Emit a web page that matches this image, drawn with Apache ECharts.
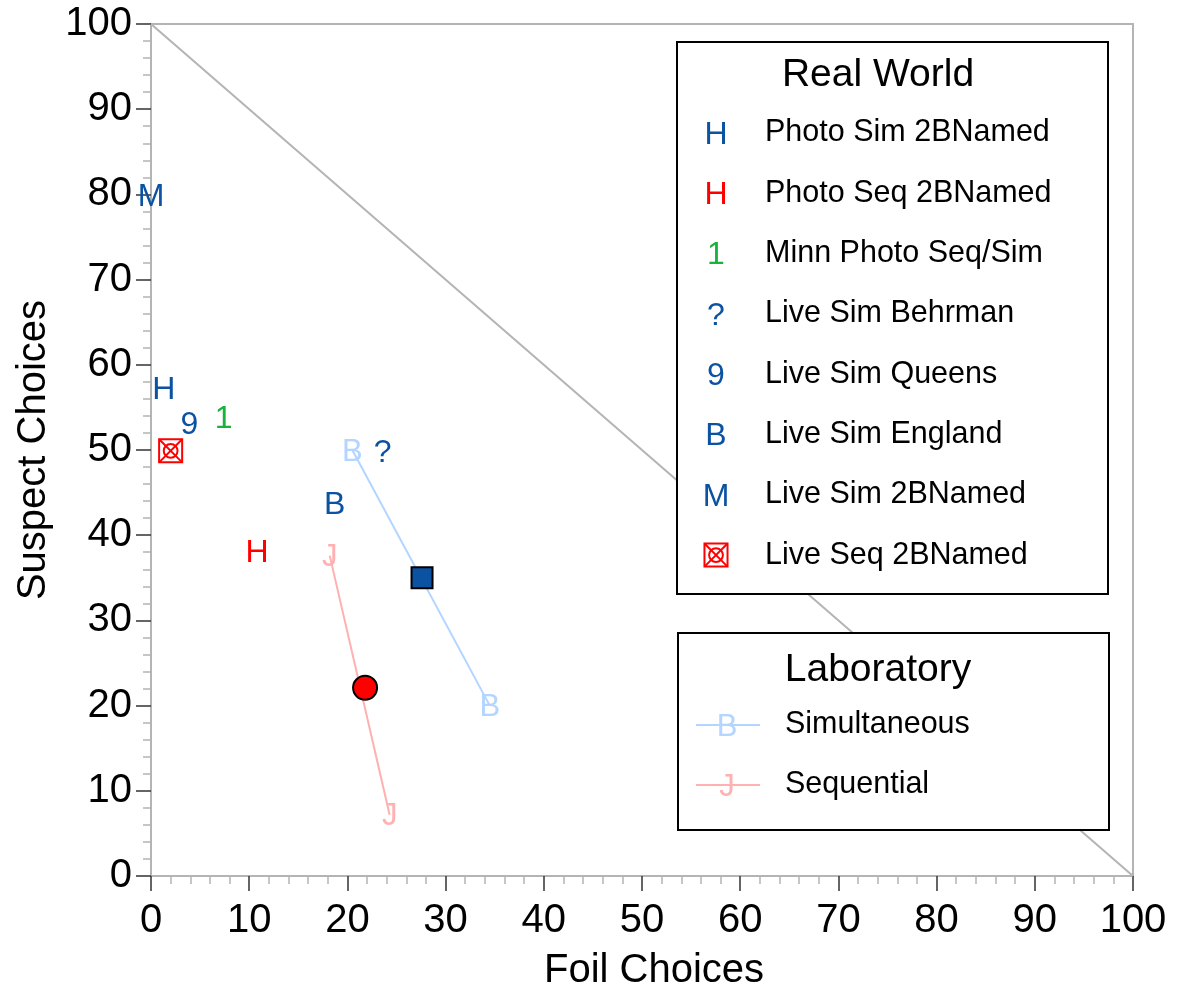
<!DOCTYPE html>
<html>

<head>
    <meta charset="UTF-8">
    <title>Suspect vs Foil Choices</title>
    <script src="https://cdn.jsdelivr.net/npm/echarts@6.0.0/dist/echarts.min.js"></script>
    <style>
        html, body { margin: 0; padding: 0; background: #fff; }
        #chart { width: 1179px; height: 987px; }
    </style>
</head>

<body>
    <div id="chart"></div>
    <script>
        // Real world studies: glyph marker, colour, foil %, suspect %
        const rwNames = ['Photo Sim 2BNamed', 'Photo Seq 2BNamed', 'Minn Photo Seq/Sim', 'Live Sim Behrman',
            'Live Sim Queens', 'Live Sim England', 'Live Sim 2BNamed', 'Live Seq 2BNamed'];
        const rwGlyphs = ['H', 'H', '1', '?', '9', 'B', 'M', 'box'];
        const rwColors = ['#0b52a3', '#ff0000', '#18b33c', '#0b52a3', '#0b52a3', '#0b52a3', '#0b52a3', '#ff0000'];
        const rwFoil = [1.3, 10.8, 7.4, 23.6, 3.9, 18.7, 0.0, 2.0];
        const rwSuspect = [57.3, 38.1, 53.9, 49.9, 53.2, 43.8, 79.9, 49.9];

        // Laboratory lines (two endpoints each) and their means
        const labNames = ['Simultaneous', 'Sequential'];
        const labGlyphs = ['B', 'J'];
        const labColors = ['#b3d5ff', '#ffb0b0'];
        const simFoil = [20.5, 34.5];
        const simSuspect = [50.0, 20.0];
        const seqFoil = [18.2, 24.3];
        const seqSuspect = [37.6, 7.2];
        const meanFoil = [27.6, 21.8];
        const meanSuspect = [35.0, 22.1];

        // chance diagonal
        const diagFoil = [0, 100];
        const diagSuspect = [100, 0];

        const FONT = 'Liberation Sans, Arial, sans-serif';
        const chart = echarts.init(document.getElementById('chart'));

        function boxGlyph(cx, cy, s, color, z) {
            const h = s / 2;
            const parts = [
                { type: 'rect', shape: { x: cx - h, y: cy - h, width: s, height: s }, style: { fill: 'none', stroke: color, lineWidth: 2 } },
                { type: 'circle', shape: { cx: cx, cy: cy, r: h * 0.6 }, style: { fill: 'none', stroke: color, lineWidth: 2 } },
                { type: 'line', shape: { x1: cx - h, y1: cy - h, x2: cx + h, y2: cy + h }, style: { stroke: color, lineWidth: 2 } },
                { type: 'line', shape: { x1: cx + h, y1: cy - h, x2: cx - h, y2: cy + h }, style: { stroke: color, lineWidth: 2 } }
            ];
            if (z != null) parts.forEach(p => { p.z = z; });
            return { type: 'group', children: parts };
        }

        // letter glyph centred on the point (small nudge so caps sit centred)
        function glyphItem(glyph, x, y, color, size, z) {
            if (glyph === 'box') return boxGlyph(x, y, size * 0.72, color, z);
            const t = {
                type: 'text', x: x, y: y + 2,
                style: { text: glyph, fill: color, fontSize: size, fontFamily: FONT, align: 'center', verticalAlign: 'middle' }
            };
            if (z != null) t.z = z;
            return t;
        }

        const rwData = rwFoil.map((f, i) => [f, rwSuspect[i], i]);

        const axisCommon = {
            type: 'value', min: 0, max: 100, interval: 10,
            axisLine: { show: true, lineStyle: { color: '#b4b4b4', width: 2 } },
            axisTick: { show: true, length: 15, lineStyle: { color: '#333', width: 1.5 } },
            minorTick: { show: true, splitNumber: 5, length: 8, lineStyle: { color: '#b4b4b4', width: 1.5 } },
            splitLine: { show: false },
            axisLabel: { color: '#000', fontSize: 40, fontFamily: FONT },
            nameLocation: 'middle',
            nameTextStyle: { color: '#000', fontSize: 40, fontFamily: FONT }
        };

        // legend graphics
        const graphics = [];
        graphics.push({ type: 'rect', shape: { x: 677, y: 42, width: 431, height: 552 }, style: { fill: '#fff', stroke: '#000', lineWidth: 2 }, z: 100 });
        graphics.push({ type: 'text', x: 878, y: 75, style: { text: 'Real World', fontSize: 39, fontFamily: FONT, fill: '#000', align: 'center', verticalAlign: 'middle' }, z: 101 });
        rwNames.forEach((name, i) => {
            const y = 133 + i * 60.3;
            graphics.push(glyphItem(rwGlyphs[i], 716, y, rwColors[i], 32, 101));
            graphics.push({ type: 'text', x: 765, y: y, style: { text: name, fontSize: 30.5, fontFamily: FONT, fill: '#000', align: 'left', verticalAlign: 'middle' }, z: 101 });
        });
        graphics.push({ type: 'rect', shape: { x: 678, y: 633, width: 431, height: 197 }, style: { fill: '#fff', stroke: '#000', lineWidth: 2 }, z: 100 });
        graphics.push({ type: 'text', x: 878, y: 670, style: { text: 'Laboratory', fontSize: 39, fontFamily: FONT, fill: '#000', align: 'center', verticalAlign: 'middle' }, z: 101 });
        labNames.forEach((name, i) => {
            const y = 725 + i * 60;
            graphics.push({ type: 'line', shape: { x1: 696, y1: y, x2: 760, y2: y }, style: { stroke: labColors[i], lineWidth: 2 }, z: 101 });
            graphics.push(glyphItem(labGlyphs[i], 727, y, labColors[i], 31, 101));
            graphics.push({ type: 'text', x: 785, y: y, style: { text: name, fontSize: 30.5, fontFamily: FONT, fill: '#000', align: 'left', verticalAlign: 'middle' }, z: 101 });
        });

        function labGlyphSeries(foil, suspect, idx) {
            return {
                type: 'custom',
                data: foil.map((f, i) => [f, suspect[i]]),
                z: 4,
                renderItem: function (params, api) {
                    const p = api.coord([api.value(0), api.value(1)]);
                    return glyphItem(labGlyphs[idx], p[0], p[1], labColors[idx], 31);
                }
            };
        }

        chart.setOption({
            animation: false,
            backgroundColor: '#fff',
            grid: {
                left: 151, right: 46, top: 24, bottom: 111, outerBoundsMode: 'none',
                show: true, borderColor: '#b4b4b4', borderWidth: 2
            },
            xAxis: Object.assign({}, axisCommon, {
                name: 'Foil Choices', nameGap: 75,
                axisLabel: Object.assign({}, axisCommon.axisLabel, { margin: 25 }),
                nameTextStyle: Object.assign({}, axisCommon.nameTextStyle, { padding: [0, 0, 0, 24] })
            }),
            yAxis: Object.assign({}, axisCommon, {
                name: 'Suspect Choices', nameGap: 95,
                axisLabel: Object.assign({}, axisCommon.axisLabel, { margin: 19 })
            }),
            graphic: graphics,
            series: [
                {
                    type: 'line', data: diagFoil.map((f, i) => [f, diagSuspect[i]]),
                    symbol: 'none', lineStyle: { color: '#b4b4b4', width: 2 }, z: 1
                },
                {
                    type: 'line', data: simFoil.map((f, i) => [f, simSuspect[i]]),
                    symbol: 'none', lineStyle: { color: labColors[0], width: 2 }, z: 2
                },
                {
                    type: 'line', data: seqFoil.map((f, i) => [f, seqSuspect[i]]),
                    symbol: 'none', lineStyle: { color: labColors[1], width: 2 }, z: 2
                },
                labGlyphSeries(simFoil, simSuspect, 0),
                labGlyphSeries(seqFoil, seqSuspect, 1),
                {
                    type: 'scatter', data: [[meanFoil[0], meanSuspect[0]]],
                    symbol: 'rect', symbolSize: 21,
                    itemStyle: { color: '#0b52a3', borderColor: '#000', borderWidth: 2, opacity: 1 }, z: 5
                },
                {
                    type: 'scatter', data: [[meanFoil[1], meanSuspect[1]]],
                    symbol: 'circle', symbolSize: 24,
                    itemStyle: { color: '#ff0000', borderColor: '#000', borderWidth: 2, opacity: 1 }, z: 5
                },
                {
                    type: 'custom',
                    data: rwData,
                    z: 6,
                    renderItem: function (params, api) {
                        const p = api.coord([api.value(0), api.value(1)]);
                        const i = api.value(2);
                        return glyphItem(rwGlyphs[i], p[0], p[1], rwColors[i], 32);
                    }
                }
            ]
        });
    </script>
</body>

</html>
